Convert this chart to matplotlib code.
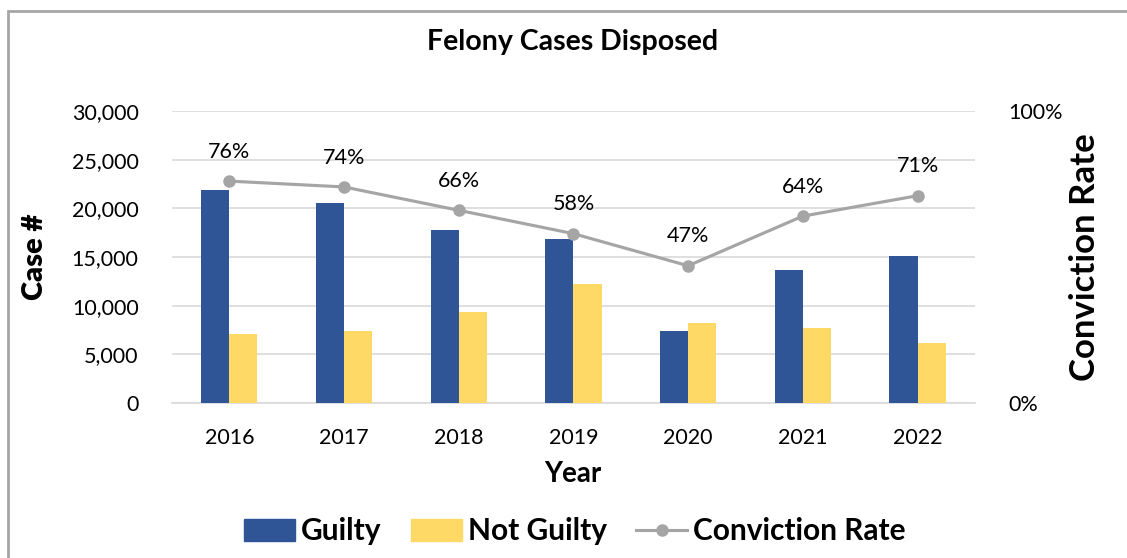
import numpy as np
import matplotlib.pyplot as plt
from matplotlib.patches import Rectangle
from matplotlib.lines import Line2D
from matplotlib.ticker import FuncFormatter

years = ['2016', '2017', '2018', '2019', '2020', '2021', '2022']
guilty = [21900, 20600, 17800, 16800, 7400, 13700, 15100]
not_guilty = [7100, 7400, 9300, 12200, 8200, 7700, 6200]
conviction = [0.76, 0.74, 0.66, 0.58, 0.47, 0.64, 0.71]

blue = '#2F5597'
yellow = '#FFD966'
grey = '#A5A5A5'

plt.rcParams['font.family'] = ['Lato', 'DejaVu Sans']

fig = plt.figure(figsize=(11.27, 5.58), dpi=100)
ax = fig.add_axes([0.1526, 0.2778, 0.7124, 0.5232])

x = np.arange(len(years))
w = 0.245
ax.bar(x - w / 2, guilty, w, color=blue, zorder=3)
ax.bar(x + w / 2, not_guilty, w, color=yellow, zorder=3)

ax.set_ylim(0, 30000)
ax.set_xlim(-0.5, len(years) - 0.5)
ax.set_yticks(range(0, 30001, 5000))
ax.yaxis.set_major_formatter(FuncFormatter(lambda v, p: f'{int(v):,}'))
ax.set_xticks(x)
ax.set_xticklabels(years)
ax.grid(axis='y', color='#D9D9D9', linewidth=1.2, zorder=0)
for s in ['left', 'right', 'top']:
    ax.spines[s].set_visible(False)
ax.spines['bottom'].set_color('#D9D9D9')
ax.spines['bottom'].set_linewidth(1.2)
ax.tick_params(axis='both', length=0, labelsize=15.5, colors='#000000')
ax.tick_params(axis='y', pad=24)
ax.tick_params(axis='x', pad=18)

ax2 = ax.twinx()
ax2.plot(x, conviction, color=grey, lw=2.25, marker='o', ms=8, zorder=4)
ax2.set_ylim(0, 1)
ax2.set_yticks([0, 1])
ax2.set_yticklabels(['0%', '100%'])
ax2.tick_params(axis='y', length=0, labelsize=15.5, pad=24)
for s in ['left', 'right', 'top', 'bottom']:
    ax2.spines[s].set_visible(False)
for xi, c in zip(x, conviction):
    ax2.annotate(f'{round(c * 100)}%', (xi, c), xytext=(0, 14), textcoords='offset points',
                 ha='center', va='bottom', fontsize=15.5)

fig.text(0.508, 0.925, 'Felony Cases Disposed', ha='center', va='center', fontsize=20.5, fontweight='bold')
fig.text(0.031, 0.54, 'Case #', rotation=90, ha='center', va='center', fontsize=21, fontweight='heavy')
fig.text(0.508, 0.15, 'Year', ha='center', va='center', fontsize=20, fontweight='bold')
fig.text(0.963, 0.54, 'Conviction Rate', rotation=90, ha='center', va='center', fontsize=25, fontweight='bold')

handles = [Rectangle((0, 0), 1, 1, color=blue),
           Rectangle((0, 0), 1, 1, color=yellow),
           Line2D([], [], color=grey, lw=2.25, marker='o', ms=8)]
fig.legend(handles, ['Guilty', 'Not Guilty', 'Conviction Rate'], loc='center',
           bbox_to_anchor=(0.51, 0.048), ncol=3, frameon=False,
           prop={'size': 21.5, 'weight': 'bold'}, handlelength=1.7, handleheight=0.75,
           handletextpad=0.2, columnspacing=1.0, numpoints=1)

fig.add_artist(Rectangle((8 / 1127, -0.1), 1.2, 1 - 11 / 558 + 0.1, transform=fig.transFigure,
                         fill=False, edgecolor='#A6A6A6', lw=2))

fig.savefig('out.png', dpi=100)
